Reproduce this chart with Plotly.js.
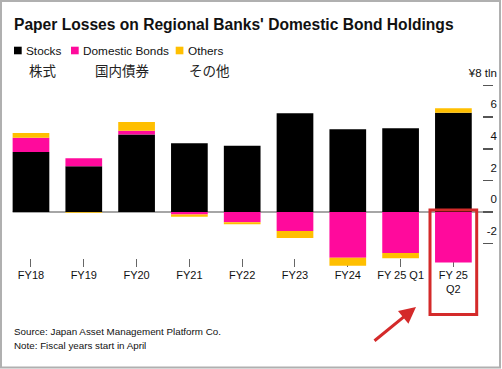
<!DOCTYPE html>
<html>
<head>
<meta charset="utf-8">
<script src="https://cdn.plot.ly/plotly-3.0.1.min.js"></script>
<style>html,body{margin:0;padding:0;background:#fff;}#chart{width:502px;height:369px;}</style>
</head>
<body>
<div id="chart"></div>
<script>
// ---- data ----
const categories = ['FY18','FY19','FY20','FY21','FY22','FY23','FY24','FY 25 Q1','FY 25<br>Q2'];
const stocks = [3.8, 2.9, 4.9, 4.35, 4.2, 6.25, 5.23, 5.3, 6.28];
const bonds  = [0.9, 0.5, 0.25, -0.15, -0.65, -1.2, -2.9, -2.6, -3.2];
const others = [0.3, -0.05, 0.55, -0.15, -0.13, -0.45, -0.5, -0.33, 0.28];
const seriesNames = ['Stocks', 'Domestic Bonds', 'Others'];
const seriesNamesJa = ['株式', '国内債券', 'その他'];
const yTickVals = [-2, 0, 2, 4, 6, 8];
const yTickText = ['-2', '0', '2', '4', '6', '¥8 tln'];

// ---- style ----
const COLORS = ['#000000', '#ff0a9c', '#ffbf00'];
const FONT = '"Liberation Sans", Arial, sans-serif';
const FONT_JA = '"Noto Sans CJK JP", sans-serif';
const W = 502, H = 369;
const M = {l: 5, r: 9, t: 50, b: 102};
const PW = W - M.l - M.r, PH = H - M.t - M.b;
const px = x => (x - M.l) / PW;
const py = y => (H - M.b - y) / PH;

const traces = [stocks, bonds, others].map((vals, i) => ({
  type: 'bar', x: categories, y: vals, name: seriesNames[i],
  marker: {color: COLORS[i], line: {width: 0}}, hoverinfo: 'skip'
}));

const annotations = [];
const shapes = [];
// legend
const legendSq = [14, 71, 175.7];
const legendTx = [25, 82, 186.7];
const legendJa = [28.3, 94.3, 187.7];
seriesNames.forEach((n, i) => {
  shapes.push({type: 'rect', xref: 'paper', yref: 'paper',
    x0: px(legendSq[i]), x1: px(legendSq[i] + 7.7), y0: py(46.7), y1: py(54.3),
    fillcolor: COLORS[i], line: {width: 0}});
  annotations.push({xref: 'paper', yref: 'paper', x: px(legendTx[i] - 1), y: py(50.8),
    xanchor: 'left', yanchor: 'middle', text: n, showarrow: false,
    font: {family: FONT, size: 11.8, color: '#111'}});
  annotations.push({xref: 'paper', yref: 'paper', x: px(legendJa[i] - 1), y: py(69.5),
    xanchor: 'left', yanchor: 'middle', text: seriesNamesJa[i], showarrow: false,
    font: {family: FONT_JA, size: 13.5, color: '#222'}});
});
// title
annotations.push({xref: 'paper', yref: 'paper', x: px(12), y: py(25), xanchor: 'left', yanchor: 'middle',
  text: "<b>Paper Losses on Regional Banks' Domestic Bond Holdings</b>", showarrow: false,
  font: {family: FONT, size: 15.6, color: '#111'}});
// source / note
annotations.push({xref: 'paper', yref: 'paper', x: px(12), y: py(331.7), xanchor: 'left', yanchor: 'middle',
  text: 'Source: Japan Asset Management Platform Co.', showarrow: false,
  font: {family: FONT, size: 9.8, color: '#111'}});
annotations.push({xref: 'paper', yref: 'paper', x: px(12), y: py(345.3), xanchor: 'left', yanchor: 'middle',
  text: 'Note: Fiscal years start in April', showarrow: false,
  font: {family: FONT, size: 9.8, color: '#111'}});
// red arrow
annotations.push({xref: 'paper', yref: 'paper', x: px(416), y: py(307), ax: -43, ay: 35,
  text: '', showarrow: true, arrowhead: 2, arrowsize: 1.1, arrowwidth: 3, arrowcolor: '#d42a2a', standoff: 0});

// zero line
shapes.push({type: 'line', xref: 'x', yref: 'y', x0: -0.347, x1: 8.56, y0: 0, y1: 0,
  line: {color: '#888', width: 1.5}, layer: 'below'});
// red highlight box
shapes.push({type: 'rect', xref: 'paper', yref: 'paper', x0: px(430), x1: px(476.7), y0: py(314.5), y1: py(210),
  line: {color: '#d42a2a', width: 3}, fillcolor: 'rgba(0,0,0,0)'});
// frame border
shapes.push({type: 'rect', xref: 'paper', yref: 'paper', x0: px(1), x1: px(500), y0: py(367.5), y1: py(1),
  line: {color: '#b0b0b0', width: 2}, fillcolor: 'rgba(0,0,0,0)'});

const layout = {
  width: W, height: H, margin: M, barmode: 'relative', bargap: 0.305,
  paper_bgcolor: '#fff', plot_bgcolor: 'rgba(0,0,0,0)', showlegend: false,
  font: {family: FONT, color: '#111'},
  xaxis: {type: 'category', range: [-0.492, 8.75], showgrid: false, zeroline: false, showline: false,
    ticks: 'inside', ticklen: 8, tickwidth: 1, tickcolor: '#666', layer: 'below traces',
    tickfont: {family: FONT, size: 11, color: '#111'}, fixedrange: true},
  yaxis: {range: [-3.48, 10.253], side: 'right', showgrid: false, zeroline: false, showline: false,
    tickvals: yTickVals, ticktext: yTickText, ticks: 'inside', ticklen: 10, tickwidth: 1.5, tickcolor: '#555',
    ticklabelposition: 'inside top', ticklabelstandoff: -7, ticklabelshift: -4,
    tickfont: {family: FONT, size: 11.5, color: '#111'}, fixedrange: true},
  annotations: annotations, shapes: shapes
};
Plotly.newPlot('chart', traces, layout, {staticPlot: true});
</script>
</body>
</html>
